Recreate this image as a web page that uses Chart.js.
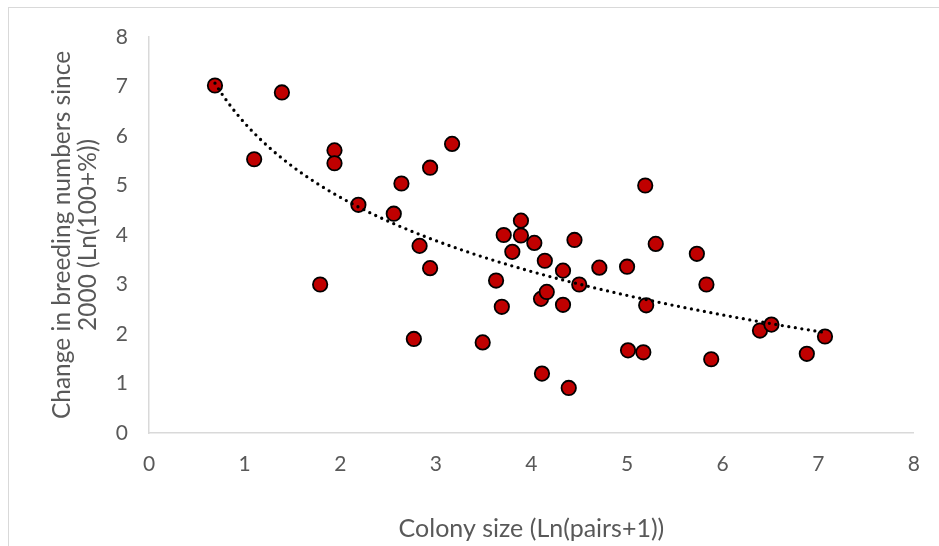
<!DOCTYPE html>
<html>
<head>
<meta charset="utf-8">
<script src="https://cdn.jsdelivr.net/npm/chart.js@4"></script>
<style>
  body { margin: 0; background: #fff; }
  #wrap { position: relative; width: 939px; height: 546px; overflow: hidden; }
  #frame { position: absolute; left: 8px; top: 7px; width: 1000px; height: 1000px; border: 1px solid #d9d9d9; pointer-events: none; }
</style>
</head>
<body>
<div id="wrap">
  <canvas id="myChart" width="939" height="546"></canvas>
  <div id="frame"></div>
</div>
<script>
// colony size, Ln(pairs+1)
var colonySize = [0.69, 1.39, 1.10, 1.94, 1.94, 1.79, 2.19, 2.64, 2.56, 2.94,
    3.17, 2.83, 2.94, 2.77, 3.49, 3.63, 3.69, 3.71, 3.89, 3.89,
    3.80, 4.03, 4.14, 4.10, 4.16, 4.33, 4.33, 4.45, 4.50, 4.11,
    4.39, 4.71, 5.00, 5.19, 5.30, 5.20, 5.01, 5.17, 5.73, 5.83,
    5.88, 6.39, 6.51, 6.88, 7.07];
// change in breeding numbers since 2000, Ln(100+%)
var breedingChange = [7.02, 6.88, 5.53, 5.71, 5.45, 3.00, 4.61, 5.04, 4.43, 5.36,
    5.84, 3.78, 3.33, 1.90, 1.83, 3.08, 2.55, 4.00, 4.29, 3.99,
    3.66, 3.84, 3.48, 2.71, 2.85, 3.28, 2.59, 3.90, 3.00, 1.20,
    0.91, 3.34, 3.36, 5.00, 3.82, 2.58, 1.67, 1.63, 3.62, 3.00,
    1.49, 2.07, 2.19, 1.60, 1.95];

var xTitle = 'Colony size (Ln(pairs+1))';
var yTitle = ['Change in breeding numbers since', '2000 (Ln(100+%))'];

var points = colonySize.map(function (x, i) {
    return { x: x, y: breedingChange[i] };
});

// logarithmic trendline fitted to the points (least squares on ln x)
function fitLog() {
    var n = colonySize.length, sx = 0, sy = 0, sxx = 0, sxy = 0;
    for (var i = 0; i < n; i++) {
        var lx = Math.log(colonySize[i]);
        sx += lx; sy += breedingChange[i]; sxx += lx * lx; sxy += lx * breedingChange[i];
    }
    var a = (n * sxy - sx * sy) / (n * sxx - sx * sx);
    var b = (sy - a * sx) / n;
    return { a: a, b: b };
}

var trendline = {
    id: 'trendline',
    afterDatasetsDraw: function (chart) {
        var fit = fitLog();
        var xs = chart.scales.x, ys = chart.scales.y, ctx = chart.ctx;
        var x0 = Math.min.apply(null, colonySize);
        var x1 = Math.max.apply(null, colonySize);
        var p0 = xs.getPixelForValue(x0), p1 = xs.getPixelForValue(x1);
        ctx.save();
        ctx.beginPath();
        for (var px = p0; px <= p1; px += 1) {
            var v = xs.getValueForPixel(px);
            var py = ys.getPixelForValue(fit.a * Math.log(v) + fit.b);
            if (px === p0) ctx.moveTo(px, py); else ctx.lineTo(px, py);
        }
        ctx.setLineDash([0, 6.6]);
        ctx.lineCap = 'round';
        ctx.lineWidth = 3.3;
        ctx.strokeStyle = '#000';
        ctx.stroke();
        ctx.restore();
    }
};

var fontFam = 'Lato, "Open Sans", sans-serif';

var chart = new Chart(document.getElementById('myChart'), {
    type: 'scatter',
    data: {
        datasets: [{
            data: points,
            backgroundColor: '#c00000',
            borderColor: '#000000',
            borderWidth: 1.8,
            pointRadius: 7.2,
            pointHoverRadius: 7.2
        }]
    },
    options: {
        responsive: false,
        animation: false,
        layout: { padding: { top: 37, right: 23, left: 0, bottom: 0 } },
        plugins: { legend: { display: false }, tooltip: { enabled: false } },
        scales: {
            x: {
                min: 0, max: 8,
                grid: { display: false, drawTicks: false },
                border: { display: true, color: '#d9d9d9', width: 1.5 },
                ticks: { stepSize: 1, padding: 19, color: '#595959', font: { family: fontFam, size: 21 } },
                title: { display: true, text: xTitle, color: '#595959', font: { family: fontFam, size: 25, lineHeight: 1.2 }, padding: { top: 0, bottom: 2 } },
                afterFit: function (s) { s.height = 113; }
            },
            y: {
                min: 0, max: 8,
                grid: { display: false, drawTicks: false },
                border: { display: true, color: '#d9d9d9', width: 1.5 },
                ticks: { stepSize: 1, padding: 21, color: '#595959', font: { family: fontFam, size: 21 } },
                title: { display: true, text: yTitle, color: '#595959', font: { family: fontFam, size: 24.5, lineHeight: 1.07 }, padding: { top: 49, bottom: 0 } },
                afterFit: function (s) { s.width = 149; }
            }
        }
    },
    plugins: [trendline]
});
</script>
</body>
</html>
